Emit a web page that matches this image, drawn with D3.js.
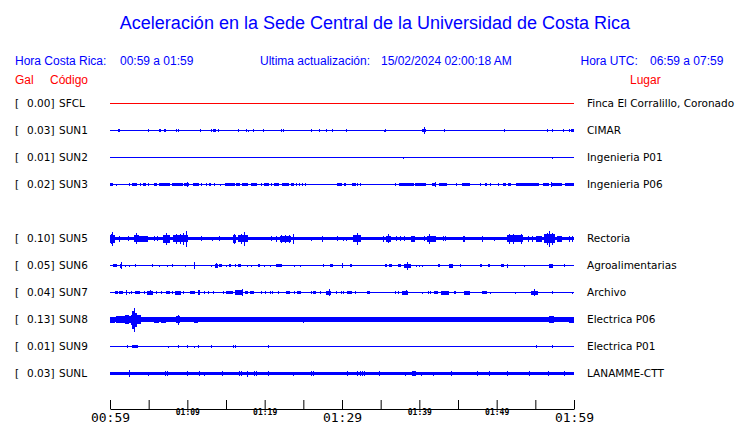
<!DOCTYPE html>
<html>
<head>
<meta charset="utf-8">
<script src="https://cdn.jsdelivr.net/npm/d3@7"></script>
<style>
  html, body { margin: 0; padding: 0; background: #fff; }
  svg { display: block; }
</style>
</head>
<body>
<svg id="chart" width="740" height="423"></svg>
<script>
// ---------------- DATA ----------------
const titleText = "Aceleración en la Sede Central de la Universidad de Costa Rica";
const localTimeLabel = "Hora Costa Rica:";
const localTimeRange = "00:59 a 01:59";
const updateLabel = "Ultima actualización:";
const updateValue = "15/02/2024 02:00:18 AM";
const utcLabel = "Hora UTC:";
const utcRange = "06:59 a 07:59";

// channel slots (SUN4 has no trace)
const slots = ["SFCL", "SUN1", "SUN2", "SUN3", "SUN4", "SUN5", "SUN6", "SUN7", "SUN8", "SUN9", "SUNL"];
const codes = ["SFCL", "SUN1", "SUN2", "SUN3", "SUN5", "SUN6", "SUN7", "SUN8", "SUN9", "SUNL"];
const galValues = [0.00, 0.03, 0.01, 0.02, 0.10, 0.05, 0.04, 0.13, 0.01, 0.03];
const places = ["Finca El Corralillo, Coronado", "CIMAR", "Ingenieria P01", "Ingenieria P06", "Rectoria",
  "Agroalimentarias", "Archivo", "Electrica P06", "Electrica P01", "LANAMME-CTT"];
// background noise level (relative amplitude) per channel
const noiseLevel = [0.5, 0.5, 0.5, 0.5, 1.8, 0.5, 0.5, 2.1, 0.5, 1.7];

// minutes since 00:59 for each tick, and their labels
const tickMinutes = [0, 5, 10, 15, 20, 25, 30, 35, 40, 45, 50, 55, 60];
const tickLabels = ["00:59", "", "01:09", "", "01:19", "", "01:29", "", "01:39", "", "01:49", "", "01:59"];
const majorTicks = ["00:59", "01:29", "01:59"];

// bursts: [minute, amplitude] or [startMinute, endMinute, amplitude]
const sfclBursts = [];
const sun1Bursts = [[1.0,1.3,1.3],[3.2,0.8],[4.9,1.3],[6.3,6.6,1.5],[7.0,7.2,1.5],[8.55,1.3],[8.85,1.3],[10.05,0.8],
  [11.65,1.3],[13.07,1.3],[13.33,1.3],[13.5,13.75,1.5],[13.93,1.3],[16.5,1.3],[17.6,1.3],[17.9,1.0],[18.45,1.3],
  [19.75,1.3],[22.1,1.3],[22.4,1.3],[26.0,1.3],[27.0,1.3],[27.9,1.3],[28.7,28.9,1.5],[30.5,1.3],[35.4,1.0],
  [35.6,1.3],[38.9,0.8],[40.35,40.85,1.7],[40.6,3.3],[43.2,1.3],[48.7,0.8],[51.0,1.3],[56.5,1.3],[57.1,1.3],
  [58.6,1.3],[59.4,1.3],[59.6,60,1.5]];
const sun2Bursts = [[37.9,1.0],[57.1,1.0]];
const sun3Bursts = [[0,0.37,1.3],[0.8,1.0],[2.43,1.3],[2.82,3.51,1.3],[3.85,1.3],[4.33,4.67,1.3],[4.89,1.3],
  [5.75,6.1,1.3],[6.4,7.77,1.5],[8.03,9.41,1.5],[9.63,10.27,1.5],[9.93,2.3],[10.7,11.56,1.3],[11.78,1.3],[12.4,1.3],
  [12.85,13.07,1.3],[13.5,1.3],[14.27,1.0],[14.88,16.1,1.5],[16.35,16.86,1.5],[17.12,17.9,1.5],[18.24,18.97,1.5],
  [19.53,1.3],[19.96,20.52,1.3],[20.82,1.3],[21.25,21.9,1.5],[22.2,23.1,1.5],[23.4,23.84,1.3],[24.1,1.3],[24.5,1.3],
  [24.8,1.3],[25.2,1.3],[27.9,0.8],[28.6,0.8],[29.4,29.95,1.3],[30.2,1.3],[30.4,1.3],[31.3,31.8,1.3],[32.0,1.3],
  [32.3,1.3],[33.1,0.8],[35.2,0.8],[36.9,1.3],[37.4,39.3,1.5],[39.5,40.9,1.5],[41.6,42.2,1.5],[41.97,2.3],
  [42.6,43.6,1.3],[44.7,1.3],[45.5,46.5,1.5],[46.9,0.8],[47.9,1.3],[48.5,48.8,1.3],[49.2,1.3],[50.2,1.3],
  [50.8,51.2,1.3],[51.5,51.8,1.3],[52.5,55.5,1.5],[56.0,56.8,1.5],[57.08,2.3],[57.2,58.4,1.5],[58.9,60,1.3]];
const sun5Bursts = [[0,0.6,4],[0.15,5],[0.3,7],[1.2,3],[2.3,2.5],[3.1,3.8,3.5],[3.35,5.5],[3.8,4.9,3],[5.67,2.5],
  [6.05,2.5],[6.8,7.77,4],[7.2,6],[8.1,10.06,3.5],[8.5,5],[9.0,5],[9.4,6],[9.85,8],[11.8,2.5],[13.2,2],[14.06,2.5],
  [15.9,16.3,4],[16.0,5],[16.5,17.8,3.5],[17.0,5],[17.35,7],[20.8,2.5],[21.5,3],[22.0,23.4,3],[22.1,4],[22.6,4],
  [23.1,4],[23.7,5],[26,2],[27.4,3],[29.4,2.5],[30.1,2],[30.5,2],[31.4,32.5,3.5],[31.9,6],[35.3,3],[35.7,36.3,3],
  [36.0,4.5],[37,2.5],[37.5,2.5],[38,2.5],[38.9,39.5,3],[40.6,2.5],[41.05,42.1,3],[41.25,5],[43,2.5],[43.3,2.5],
  [45.6,45.9,3],[48.1,3],[49.7,2],[51.4,53.4,3.5],[51.6,5],[52.1,5],[53.1,5],[54,3],[54.6,3],[55.1,55.9,3],
  [56.1,57.6,4.5],[56.5,6],[56.8,8],[57.2,6],[57.85,58.4,3],[59.4,3],[59.8,3]];
const sun6Bursts = [[0.37,0.92,1.7],[1.3,1.6,2],[1.45,3.3],[1.96,1],[2.5,1],[3.2,3.4,1.5],[5.4,5.6,1.5],[6.3,1],
  [7.35,1],[8.0,8.2,1.5],[9.75,1],[10.8,11.05,2],[10.9,3.5],[13,1],[13.6,13.93,2],[13.75,2.8],[14.1,14.45,1.5],
  [15,1],[15.35,15.65,1.5],[16.2,1.5],[16.5,16.95,1.5],[17.7,1],[18.2,1],[19.1,19.4,1.5],[19.9,1],[20.7,1],
  [21.5,22.2,1.5],[23.8,1],[24.6,1],[27.6,1.5],[28.5,28.85,1.5],[30,2.5],[31,1.5],[31.2,1.5],[35.5,35.8,1.5],
  [36.1,36.5,1.5],[37.3,37.6,1.5],[38.05,38.9,2],[38.4,4],[39.6,1],[40,1],[40.3,1],[42.4,42.7,1.5],[43.9,44.3,2],
  [45.2,1.5],[47.8,48.1,1.5],[48.9,49.1,1.5],[50.6,50.9,1.5],[51.4,2],[53.5,1],[56.8,57.3,2],[58.7,58.9,1.5]];
const sun7Bursts = [[0.6,1.0,1.3],[1.2,1.66,1.8],[2.1,2.5],[2.4,1],[2.7,1.5],[3.17,3.94,1.7],[4.4,1.3],[4.8,5.6,2],
  [5.2,2.3],[6.0,1.3],[6.6,1.3],[7.2,7.77,1.5],[8.0,1.3],[8.4,9.2,2],[9.5,1.5],[10.4,11.0,1.7],[11.35,11.65,2.5],
  [12.1,1.3],[12.7,1.3],[13.3,1.3],[14.6,14.8,1.2],[15.05,15.9,1.7],[16.2,17.2,2.3],[17.05,3.5],[17.4,17.8,1.7],
  [18.1,18.6,1.7],[19.5,1.3],[20,1.3],[20.7,1.3],[21.0,1.3],[21.7,1.3],[22.75,23.3,1.7],[23.75,1.3],[24.2,24.7,1.5],
  [26,1.3],[26.3,26.6,1.3],[27.2,1.3],[27.9,28.6,2],[28.35,3.5],[29.2,1.3],[29.9,1.3],[30.1,1.3],[30.6,31.3,1.7],
  [31.7,1.3],[33.2,33.6,1.7],[36.8,1.3],[37.2,1.3],[37.75,38.5,2],[38.3,2.5],[40.3,1],[41.1,1.3],[41.4,1.3],
  [41.9,42.4,1.5],[42.8,43.8,2],[44.5,44.8,1.3],[45.8,46.5,2],[48.1,48.7,1.7],[49.2,1],[52.4,1],[54.4,55.3,2],
  [54.85,3.5],[57.1,1.5],[59.8,1]];
const sun8Bursts = [[0,0.6,3],[0.8,1.9,3.5],[2.0,2.4,4.5],[2.5,2.73,3.5],[2.73,3.1,5],[2.9,3.2,9],[3.05,12],
  [3.2,3.5,7],[3.5,4.0,4.5],[5.75,6.4,3],[6.6,7.25,3],[7.9,2.5],[8.55,9.0,3.5],[8.75,5],[9.4,9.8,2.5],
  [10.05,10.3,2.5],[10.8,11.4,3],[12.2,2.5],[15.3,2.5],[15.9,2.5],[21.2,2.5],[24.9,3],[26.5,2.5],[27.3,2.5],
  [29.9,2.5],[38.1,2.5],[45.7,2.5],[56.8,57.4,3.3],[59.4,60,3]];
const sun9Bursts = [[2.2,1.3],[2.87,3.6,1.5],[7.5,1],[8.8,1.3],[9.9,1.3],[10.85,1],[11.35,1.3],[13,1.3],[15.9,1.3],
  [16.1,1.3],[20.4,1.3],[55.1,1.3],[57.1,1.7]];
const sunlBursts = [[2.4,2.65,3.5],[4.9,2],[7.05,2.2],[7.35,2.2],[9.97,2.5],[11.5,2.5],[12.2,2],[14.45,2.3],
  [16.7,2.3],[16.95,2.3],[17.7,3],[18.6,2.5],[18.9,2.5],[20.4,2.5],[23.6,2],[26,2.3],[26.2,2.3],[30.7,2.5],
  [31.9,2.5],[32.3,2.5],[32.6,2.5],[32.9,2.2],[34.8,2.2],[38.1,2],[39.0,39.6,2.5],[40.2,2],[41.8,2],[44.1,2.3],
  [47.4,2.2],[49,2.2],[51.4,2.3],[54.2,2.2],[56.7,2.3],[58.7,2.3]];
const burstsByCode = [sfclBursts, sun1Bursts, sun2Bursts, sun3Bursts, sun5Bursts, sun6Bursts, sun7Bursts,
  sun8Bursts, sun9Bursts, sunlBursts];

// ---------------- DRAW ----------------
const BLUE = "#0000ff";
const RED = "#ff0000";
const svg = d3.select("#chart");

const x = d3.scaleLinear().domain([0, 60]).range([110, 574]);
const y = d3.scalePoint().domain(slots).range([103.5, 373.5]);
const amp = d3.scaleLinear().domain([0, 12]).range([0, 12]);

// title
svg.append("text").attr("x", 375).attr("y", 28.5).attr("text-anchor", "middle")
  .attr("font-family", "Liberation Sans, Arial, sans-serif").attr("font-size", 18)
  .attr("fill", BLUE).text(titleText);

const hdr = svg.append("g").attr("font-family", "Liberation Sans, Arial, sans-serif")
  .attr("font-size", 12).attr("fill", BLUE);
hdr.append("text").attr("x", 15).attr("y", 64.5).text(localTimeLabel);
hdr.append("text").attr("x", 120).attr("y", 64.5).text(localTimeRange);
hdr.append("text").attr("x", 260).attr("y", 64.5).text(updateLabel);
hdr.append("text").attr("x", 381).attr("y", 64.5).text(updateValue);
hdr.append("text").attr("x", 580.5).attr("y", 64.5).text(utcLabel);
hdr.append("text").attr("x", 650).attr("y", 64.5).text(utcRange);

const sub = svg.append("g").attr("font-family", "Liberation Sans, Arial, sans-serif")
  .attr("font-size", 12).attr("fill", RED);
sub.append("text").attr("x", 15).attr("y", 83.5).text("Gal");
sub.append("text").attr("x", 50).attr("y", 83.5).text("Código");
sub.append("text").attr("x", 630).attr("y", 83.5).text("Lugar");

// rows
const rows = svg.append("g").selectAll("g.row")
  .data(codes.map((c, i) => ({ code: c, gal: galValues[i], place: places[i], noise: noiseLevel[i], bursts: burstsByCode[i] })))
  .join("g").attr("class", "row")
  .attr("transform", d => `translate(0,${y(d.code)})`);

const labelFont = "DejaVu Sans, sans-serif";
rows.append("text").attr("x", 15).attr("y", 3.8).attr("font-family", labelFont).attr("font-size", 10.5)
  .attr("fill", "#000").text("[");
rows.append("text").attr("x", 54.5).attr("y", 3.8).attr("text-anchor", "end").attr("font-family", labelFont)
  .attr("font-size", 10.5).attr("fill", "#000").text(d => d3.format(".2f")(d.gal) + "]");
rows.append("text").attr("x", 59).attr("y", 3.8).attr("font-family", labelFont).attr("font-size", 10.5)
  .attr("fill", "#000").text(d => d.code);
rows.append("text").attr("x", 587).attr("y", 3.8).attr("font-family", labelFont).attr("font-size", 10.5)
  .attr("fill", "#000").text(d => d.place);

// traces
const traces = rows.append("g").attr("shape-rendering", "crispEdges")
  .attr("fill", d => d.code === "SFCL" ? RED : BLUE);
traces.append("rect")
  .attr("x", x(0)).attr("width", x(60) - x(0))
  .attr("y", d => -amp(d.noise)).attr("height", d => 2 * amp(d.noise));
traces.selectAll("rect.burst")
  .data(d => d.bursts.map(b => b.length === 2 ? { t0: b[0], t1: b[0], a: b[1] } : { t0: b[0], t1: b[1], a: b[2] }))
  .join("rect").attr("class", "burst")
  .attr("x", b => x(b.t0))
  .attr("width", b => Math.max(1, Math.min(x(b.t1), x(60)) - x(b.t0)))
  .attr("y", b => -amp(b.a)).attr("height", b => 2 * amp(b.a));

// time axis
const axis = d3.axisBottom(x).tickValues(tickMinutes).tickSizeInner(-9).tickSizeOuter(0)
  .tickPadding(0).tickFormat((d, i) => tickLabels[i]);
const ag = svg.append("g").attr("transform", "translate(0,409)").call(axis);
ag.select(".domain").attr("stroke", "#000");
ag.selectAll(".tick line").attr("stroke", "#000");
ag.selectAll(".tick text")
  .attr("fill", "#000")
  .attr("font-family", "DejaVu Sans Mono, monospace")
  .attr("dy", null)
  .attr("font-weight", (d, i) => majorTicks.includes(tickLabels[i]) ? "normal" : "bold")
  .attr("font-size", (d, i) => majorTicks.includes(tickLabels[i]) ? 13 : 8)
  .attr("y", (d, i) => majorTicks.includes(tickLabels[i]) ? 12.5 : 6);
</script>
</body>
</html>
